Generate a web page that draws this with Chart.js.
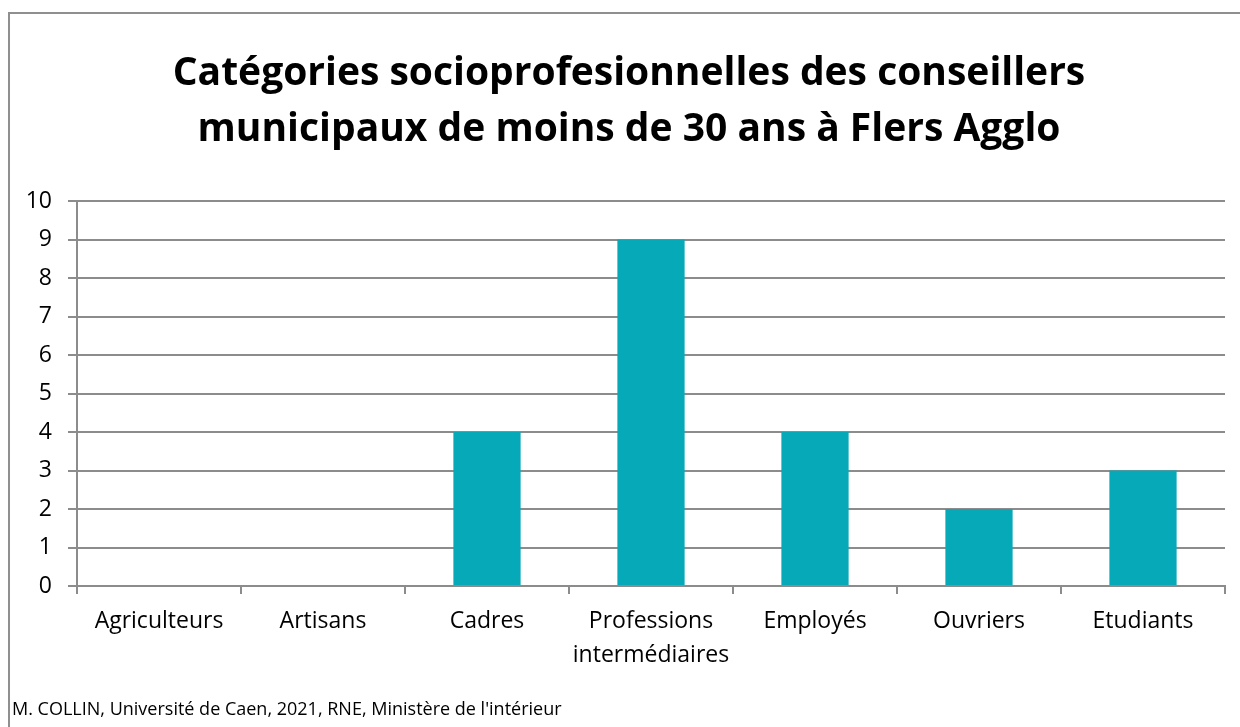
<!DOCTYPE html>
<html>
<head>
<meta charset="utf-8">
<script src="https://cdn.jsdelivr.net/npm/chart.js@4"></script>
<style>
  html, body { margin: 0; padding: 0; background: #fff; overflow: hidden; }
  #frame { position: absolute; left: 8px; top: 12px; width: 1300px; height: 800px;
           border-left: 2px solid #8f8f8f; border-top: 2px solid #8f8f8f; }
  #wrap { position: absolute; left: 0; top: 0; width: 1240px; height: 727px; }
  #source { position: absolute; left: 12px; top: 696px; font-family: "Open Sans", sans-serif;
            font-size: 18px; color: #000; white-space: nowrap; }
</style>
</head>
<body>
<div id="frame"></div>
<div id="wrap"><canvas id="barChart" width="1240" height="727"></canvas></div>
<div id="source">M. COLLIN, Université de Caen, 2021, RNE, Ministère de l'intérieur</div>
<script>
// données
var categories = ['Agriculteurs', 'Artisans', 'Cadres', ['Professions', 'intermédiaires'], 'Employés', 'Ouvriers', 'Etudiants'];
var values = [0, 0, 4, 9, 4, 2, 3];
var titleLines = ['Catégories socioprofesionnelles des conseillers', 'municipaux de moins de 30 ans à Flers Agglo'];
var yMin = 0;
var yMax = 10;

var gridColor = '#8c8c8c';

const bar = document.getElementById('barChart');

new Chart(bar, {
    type: 'bar',
    data: {
        labels: categories,
        datasets: [{
            data: values,
            backgroundColor: '#05a9b8',
            borderWidth: 0,
            barPercentage: 0.41,
            categoryPercentage: 1
        }]
    },
    options: {
        responsive: false,
        animation: false,
        layout: {
            padding: { left: 18, right: 0, top: 0, bottom: 0 }
        },
        plugins: {
            legend: { display: false },
            tooltip: { enabled: false },
            title: {
                display: true,
                text: titleLines,
                color: '#000',
                font: { family: '"Open Sans", sans-serif', size: 39, weight: 'bold', lineHeight: '56px' },
                padding: { top: 46, bottom: 43 }
            }
        },
        scales: {
            x: {
                offset: true,
                grid: {
                    offset: true,
                    drawOnChartArea: false,
                    color: gridColor,
                    lineWidth: 2,
                    tickLength: 8
                },
                border: { color: gridColor, width: 2 },
                ticks: {
                    color: '#000',
                    padding: 11,
                    font: { family: '"Open Sans", sans-serif', size: 23, lineHeight: 1.45 }
                },
                afterFit: function (s) { s.height = 141; }
            },
            y: {
                min: yMin,
                max: yMax,
                grid: {
                    color: gridColor,
                    lineWidth: 2,
                    tickLength: 9
                },
                border: { color: gridColor, width: 2 },
                ticks: {
                    stepSize: 1,
                    color: '#000',
                    padding: 16,
                    font: { family: '"Open Sans", sans-serif', size: 23 }
                },
                afterFit: function (s) { s.width = 59; }
            },
            y2: {
                position: 'right',
                display: true,
                grid: { display: false },
                border: { display: false },
                ticks: { display: false },
                afterFit: function (s) { s.width = 15; }
            }
        }
    }
});
</script>
</body>
</html>
